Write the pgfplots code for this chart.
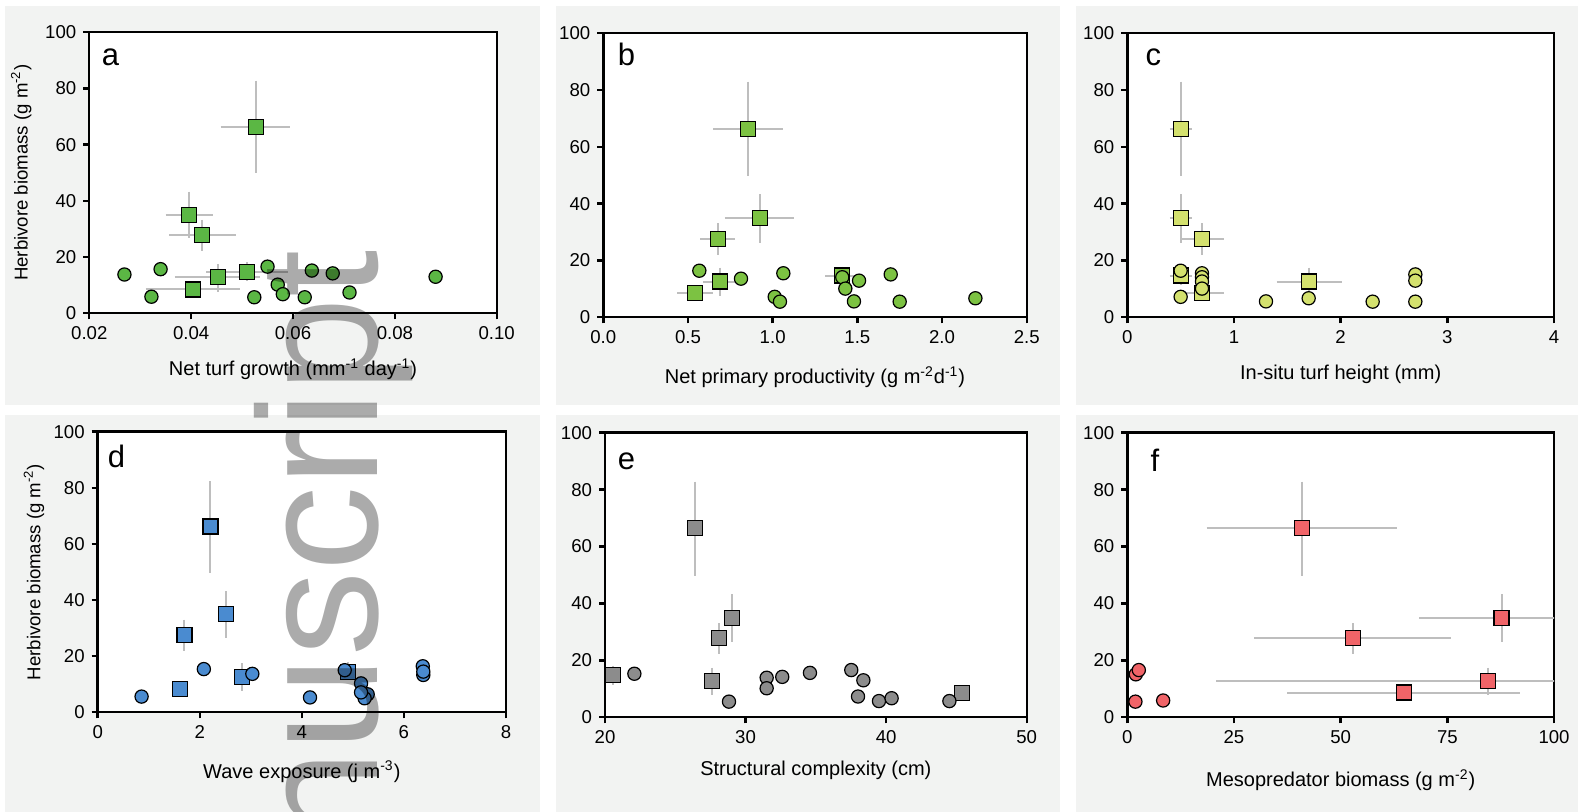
\documentclass[border=0pt]{standalone}
\usepackage{fontspec}
\setmainfont{Liberation Sans}
\usepackage{pgfplots}
\pgfplotsset{compat=1.18}

\definecolor{bgpanel}{HTML}{F2F3F2}
\definecolor{errgray}{HTML}{BEBEBE}
\definecolor{cA}{HTML}{5BB744}
\definecolor{cB}{HTML}{7CC242}
\definecolor{cC}{HTML}{D4E16E}
\definecolor{cD}{HTML}{4A8BD0}
\definecolor{cE}{HTML}{8C8C8C}
\definecolor{cF}{HTML}{F06468}

\pgfplotsset{
  panel/.style={
    scale only axis, anchor=south west,
    axis line style={line width=1.2pt},
    major tick style={line width=1.2pt, black},
    tick align=outside, major tick length=3pt,
    xtick pos=bottom, ytick pos=left,
    ymin=0, ymax=100, ytick={0,20,...,100},
    /pgf/number format/assume math mode=true,
    tick label style={font=\fontsize{9.3}{11}\selectfont},
    label style={font=\fontsize{10}{12}\selectfont},
    xlabel style={at={(axis description cs:0.5,0)}, anchor=center},
    axis background/.style={fill=white},
    unbounded coords=jump,
  },
  eb/.style={errgray, line width=1pt, no markers},
  sq/.style={only marks, mark=square*, mark size=3.75pt, mark options={draw=black, line width=0.6pt, fill=#1}},
  ci/.style={only marks, mark=*, mark size=3.3pt, mark options={draw=black, line width=0.6pt, fill=#1}},
  ylab/.style={ylabel={Herbivore biomass (g m\textsuperscript{-2})},
    ylabel style={at={(axis description cs:#1,0.5)}, anchor=center, font=\fontsize{9.3}{11}\selectfont}},
}
\newcommand{\plet}[3]{\node[font=\fontsize{15.5}{18}\selectfont] at (axis description cs:#1,#2) {#3};}

\begin{document}
\begin{tikzpicture}
\useasboundingbox (0,0) rectangle (789pt,406pt);
% panel backgrounds
\fill[bgpanel] (2.5pt,203.5pt) rectangle (270pt,403pt);
\fill[bgpanel] (278pt,203.5pt) rectangle (530pt,403pt);
\fill[bgpanel] (538pt,203.5pt) rectangle (789pt,403pt);
\fill[bgpanel] (2.5pt,0pt) rectangle (270pt,198.5pt);
\fill[bgpanel] (278pt,0pt) rectangle (530pt,198.5pt);
\fill[bgpanel] (538pt,0pt) rectangle (789pt,198.5pt);

% a
\begin{axis}[panel, at={(44.65pt,249.35pt)}, width=203.7pt, height=140.5pt,
  xmin=0.02, xmax=0.10, xtick={0.02,0.04,0.06,0.08,0.10},
  xticklabels={0.02,0.04,0.06,0.08,0.10},
  xlabel={Net turf growth (mm\textsuperscript{-1} day\textsuperscript{-1})},
  xlabel style={yshift=-28pt}, ylab=-0.167]
\addplot[eb] coordinates {
 (0.0458,66.2) (0.0595,66.2) (nan,nan) (0.0527,82.8) (0.0527,49.8) (nan,nan)
 (0.0350,35.0) (0.0442,35.0) (nan,nan) (0.0395,43.3) (0.0395,26.7) (nan,nan)
 (0.0357,27.8) (0.0489,27.8) (nan,nan) (0.0422,33.2) (0.0422,22.3) (nan,nan)
 (0.0368,12.8) (0.0536,12.8) (nan,nan) (0.0452,17.4) (0.0452,7.7) (nan,nan)
 (0.0311,8.5) (0.0495,8.5) (nan,nan)
 (0.0430,14.8) (0.0591,14.8) (nan,nan) (0.0510,18.1) (0.0510,11.5)};
\addplot[sq=cA] coordinates {(0.0527,66.2) (0.0395,35.0) (0.0422,27.8) (0.0452,12.8) (0.0403,8.5) (0.0510,14.8)};
\addplot[ci=cA] coordinates {(0.0269,13.8) (0.0340,15.7) (0.0322,5.9) (0.0524,5.7) (0.0550,16.6) (0.0570,10.2)
 (0.0580,6.8) (0.0623,5.7) (0.0637,15.2) (0.0678,14.2) (0.0711,7.4) (0.0880,13.0)};
\plet{0.052}{0.911}{a}
\end{axis}

% b
\begin{axis}[panel, at={(301.65pt,247.35pt)}, width=211.7pt, height=142pt,
  xmin=0, xmax=2.5, xtick={0,0.5,1,1.5,2,2.5},
  xticklabels={0.0,0.5,1.0,1.5,2.0,2.5},
  xlabel={Net primary productivity (g m\textsuperscript{-2}d\textsuperscript{-1})},
  xlabel style={yshift=-30pt}]
\addplot[eb] coordinates {
 (0.650,66.2) (1.059,66.2) (nan,nan) (0.854,83.0) (0.854,49.8) (nan,nan)
 (0.718,34.9) (1.126,34.9) (nan,nan) (0.923,43.4) (0.923,26.3) (nan,nan)
 (0.571,27.7) (0.780,27.7) (nan,nan) (0.675,33.1) (0.675,21.9) (nan,nan)
 (0.590,12.6) (0.787,12.6) (nan,nan) (0.691,17.5) (0.691,7.5) (nan,nan)
 (0.437,8.5) (0.650,8.5) (nan,nan)
 (1.309,14.7) (1.496,14.7) (nan,nan) (1.409,17.8) (1.409,11.4)};
\addplot[sq=cB] coordinates {(0.854,66.2) (0.923,34.9) (0.675,27.7) (0.691,12.6) (0.543,8.5) (1.409,14.7)};
\addplot[ci=cB] coordinates {(0.567,16.4) (0.813,13.6) (1.012,7.2) (1.043,5.5) (1.063,15.5) (1.411,14.1)
 (1.429,10.1) (1.480,5.6) (1.510,12.9) (1.697,15.1) (1.750,5.5) (2.197,6.7)};
\plet{0.055}{0.924}{b}
\end{axis}

% c
\begin{axis}[panel, at={(563.65pt,247.35pt)}, width=213.35pt, height=142pt,
  xmin=0, xmax=4, xtick={0,1,2,3,4},
  xlabel={In-situ turf height (mm)},
  xlabel style={yshift=-28.5pt}]
\addplot[eb] coordinates {
 (0.40,66.2) (0.61,66.2) (nan,nan) (0.5,83.0) (0.5,49.8) (nan,nan)
 (0.40,34.9) (0.61,34.9) (nan,nan) (0.5,43.4) (0.5,26.3) (nan,nan)
 (0.50,27.7) (0.906,27.7) (nan,nan) (0.703,33.1) (0.703,21.9) (nan,nan)
 (1.40,12.6) (2.01,12.6) (nan,nan) (1.703,17.5) (1.703,7.5) (nan,nan)
 (0.50,8.5) (0.906,8.5) (nan,nan)
 (0.40,14.7) (0.61,14.7) (nan,nan) (0.5,17.8) (0.5,11.4)};
\addplot[sq=cC] coordinates {(0.5,66.2) (0.5,34.9) (0.703,27.7) (1.703,12.6) (0.7,8.5) (0.5,14.7)};
\addplot[ci=cC] coordinates {(0.5,16.4) (0.5,7.2) (0.7,15.5) (0.7,14.1) (0.7,12.6) (0.7,10.1)
 (1.3,5.6) (1.7,6.7) (2.3,5.5) (2.7,15.1) (2.7,12.9) (2.7,5.5)};
\plet{0.061}{0.915}{c}
\end{axis}

% d
\begin{axis}[panel, at={(48.85pt,49.85pt)}, width=204.15pt, height=140.3pt,
  xmin=0, xmax=8, xtick={0,2,4,6,8},
  xlabel={Wave exposure (j m\textsuperscript{-3})},
  xlabel style={yshift=-29.7pt}, ylab=-0.156]
\addplot[eb] coordinates {
 (2.21,82.4) (2.21,49.5) (nan,nan)
 (2.51,43.2) (2.51,26.4) (nan,nan)
 (1.70,32.9) (1.70,22.0) (nan,nan)
 (2.83,17.5) (2.83,7.6) (nan,nan)
 (4.91,17.8) (4.91,11.4)};
\addplot[sq=cD] coordinates {(2.21,66.2) (2.51,34.9) (1.70,27.6) (2.83,12.6) (1.62,8.3) (4.91,14.5)};
\addplot[ci=cD] coordinates {(0.86,5.6) (2.08,15.4) (3.03,13.7) (4.16,5.3) (4.84,15.0) (5.16,10.3)
 (5.29,6.4) (5.23,5.0) (5.16,7.1) (6.37,16.4) (6.38,13.3) (6.38,14.5)};
\plet{0.046}{0.911}{d}
\end{axis}

% e
\begin{axis}[panel, at={(302.5pt,47.35pt)}, width=210.85pt, height=142.3pt,
  xmin=20, xmax=50, xtick={20,30,40,50},
  xlabel={Structural complexity (cm)},
  xlabel style={yshift=-26.5pt}]
\addplot[eb] coordinates {
 (26.40,82.8) (26.40,49.8) (nan,nan)
 (29.01,43.3) (29.01,26.3) (nan,nan)
 (28.11,33.0) (28.11,22.1) (nan,nan)
 (27.59,17.4) (27.59,7.8) (nan,nan)
 (20.59,18.1) (20.59,11.4)};
\addplot[sq=cE] coordinates {(26.40,66.4) (29.01,35.0) (28.11,27.8) (27.59,12.8) (20.59,14.9) (45.42,8.4)};
\addplot[ci=cE] coordinates {(22.09,15.3) (28.82,5.5) (31.50,13.9) (31.50,10.2) (32.61,14.2) (34.58,15.6)
 (37.52,16.6) (38.38,13.0) (38.00,7.3) (39.49,5.7) (40.39,6.7) (44.50,5.7)};
\plet{0.051}{0.900}{e}
\end{axis}

% f
\begin{axis}[panel, at={(563.65pt,47.35pt)}, width=213.35pt, height=142.3pt,
  xmin=0, xmax=100, xtick={0,25,50,75,100},
  xlabel={Mesopredator biomass (g m\textsuperscript{-2})},
  xlabel style={yshift=-31.5pt}]
\addplot[eb] coordinates {
 (18.6,66.4) (63.1,66.4) (nan,nan) (40.86,82.8) (40.86,49.8) (nan,nan)
 (29.8,27.8) (75.8,27.8) (nan,nan) (52.8,33.0) (52.8,22.1) (nan,nan)
 (68.4,35.0) (107,35.0) (nan,nan) (87.7,43.3) (87.7,26.3) (nan,nan)
 (20.8,12.8) (148,12.8) (nan,nan) (84.5,17.4) (84.5,7.8) (nan,nan)
 (37.5,8.7) (92.0,8.7)};
\addplot[sq=cF] coordinates {(40.86,66.4) (52.8,27.8) (87.7,35.0) (84.5,12.8) (64.8,8.7)};
\addplot[ci=cF] coordinates {(2.0,15.1) (2.7,16.6) (1.9,5.5) (8.4,5.9)};
\plet{0.065}{0.904}{f}
\end{axis}

% watermark
\node[rotate=90, anchor=base east, inner sep=0pt, text=black, text opacity=0.33,
  font=\fontsize{85}{90}\selectfont] at (188.5pt,281pt) {nuscript};
\end{tikzpicture}
\end{document}
